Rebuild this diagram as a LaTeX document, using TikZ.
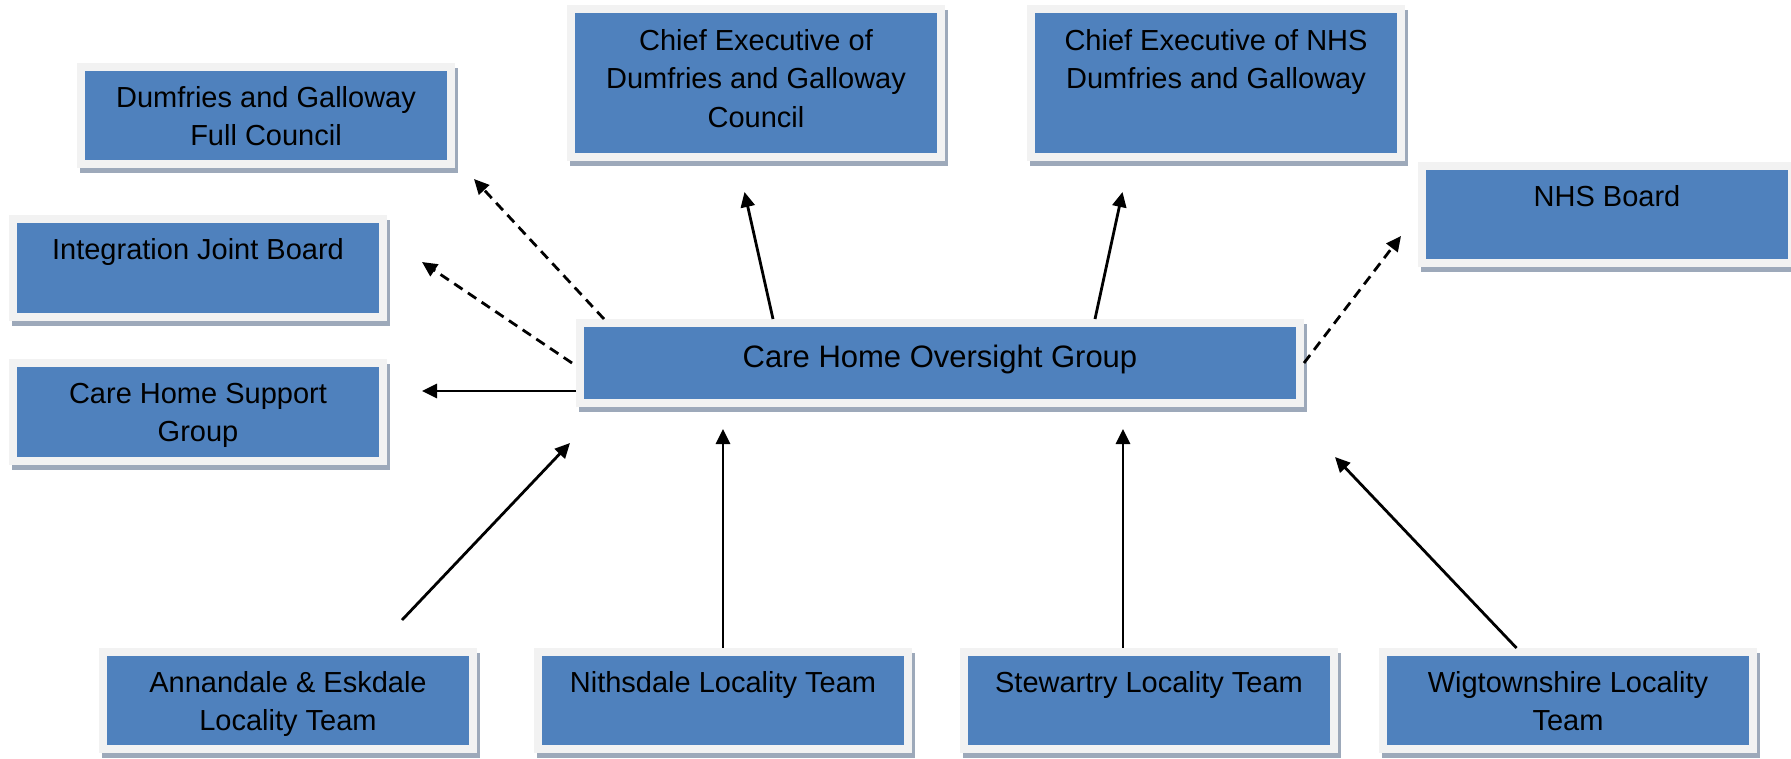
\documentclass[tikz,border=0pt]{standalone}
\usepackage{fontspec}
\setmainfont{Liberation Sans}
\usetikzlibrary{arrows.meta,calc,shadows}

\definecolor{boxblue}{HTML}{4F81BD}
\definecolor{framegrey}{HTML}{F2F2F2}
\definecolor{shadowgrey}{HTML}{9DA9BA}

\tikzset{
  orgbox/.style={anchor=north west, inner sep=0pt, outer sep=0pt,
    minimum width=378pt, minimum height=105pt, fill=framegrey, draw=none,
    drop shadow={shadow xshift=3pt, shadow yshift=-5pt, fill=shadowgrey, opacity=1},
    path picture={\fill[boxblue]
      ([shift={(8pt,-8pt)}]path picture bounding box.north west) rectangle
      ([shift={(-8pt,8pt)}]path picture bounding box.south east);}},
  boxtext/.style={anchor=north, inner sep=0pt, align=center,
    font=\fontsize{29pt}{38.5pt}\selectfont},
  bigtext/.style={boxtext, font=\fontsize{31pt}{40pt}\selectfont},
  link/.style={line width=2.8pt, -{Triangle[length=15pt,width=14pt]}},
  dashedlink/.style={link, dash pattern=on 10pt off 6.5pt},
}

\begin{document}
\begin{tikzpicture}[x=1pt,y=-1pt]
  \clip (0,0) rectangle (1791,758);

  % boxes
  \node[orgbox] (fc)  at (77,63)   {};
  \node[orgbox, minimum height=156pt] (cec) at (567,5)  {};
  \node[orgbox, minimum height=156pt] (cen) at (1027,5) {};
  \node[orgbox] (nhs) at (1418,162) {};
  \node[orgbox, minimum height=106pt] (ijb) at (9,215)  {};
  \node[orgbox, minimum height=106pt] (chs) at (9,359)  {};
  \node[orgbox, minimum width=728pt, minimum height=88pt] (ohg) at (576,319) {};
  \node[orgbox] (ann) at (99,648)   {};
  \node[orgbox] (nit) at (534,648)  {};
  \node[orgbox] (stw) at (960,648)  {};
  \node[orgbox] (wig) at (1379,648) {};

  % box labels
  \node[boxtext] (fc-t)  at ([yshift=-17pt]fc.north)  {\strut Dumfries and Galloway\\Full Council};
  \node[boxtext] (cec-t) at ([yshift=-18pt]cec.north) {\strut Chief Executive of\\Dumfries and Galloway\\Council};
  \node[boxtext] (cen-t) at ([yshift=-18pt]cen.north) {\strut Chief Executive of NHS\\Dumfries and Galloway};
  \node[boxtext] (nhs-t) at ([yshift=-17pt]nhs.north) {\strut NHS Board};
  \node[boxtext] (ijb-t) at ([yshift=-17pt]ijb.north) {\strut Integration Joint Board};
  \node[boxtext] (chs-t) at ([yshift=-17pt]chs.north) {\strut Care Home Support\\Group};
  \node[bigtext] (ohg-t) at ([yshift=-20pt]ohg.north) {\strut Care Home Oversight Group};
  \node[boxtext] (ann-t) at ([yshift=-17pt]ann.north) {\strut Annandale \& Eskdale\\Locality Team};
  \node[boxtext] (nit-t) at ([yshift=-17pt]nit.north) {\strut Nithsdale Locality Team};
  \node[boxtext] (stw-t) at ([yshift=-17pt]stw.north) {\strut Stewartry Locality Team};
  \node[boxtext] (wig-t) at ([yshift=-17pt]wig.north) {\strut Wigtownshire Locality\\Team};

  % reporting lines from the oversight group
  \draw[dashedlink] ($(ohg.north west)+(28,0)$) -- ($(fc.south east)+(19,11)$);
  \draw[dashedlink] ($(ohg.west)+(-4,0)$) -- ($(ijb.east)+(35,-6)$);
  \draw[link] ($(ohg.west)+(0,28)$) -- ($(chs.east)+(35,-21)$);
  \draw[link] ($(ohg.north)+(-167,0)$) -- ($(cec.south)+(-11.5,31)$);
  \draw[link] ($(ohg.north)+(155,0)$) -- ($(cen.south)+(-93.5,31)$);
  \draw[dashedlink] (ohg.east) -- ($(nhs.south west)+(-17,-31)$);

  % locality teams feeding in
  \draw[link] ($(ann.north)+(114,-28)$) -- ($(ohg.south west)+(-6,36)$);
  \draw[link] (nit.north) -- ($(nit.north |- ohg.south)+(0,22)$);
  \draw[link] ($(stw.north)+(-26,0)$) -- ($(stw.north |- ohg.south)+(-26,22)$);
  \draw[link] ($(wig.north)+(-51.5,0)$) -- ($(ohg.south east)+(31,50)$);
\end{tikzpicture}
\end{document}
